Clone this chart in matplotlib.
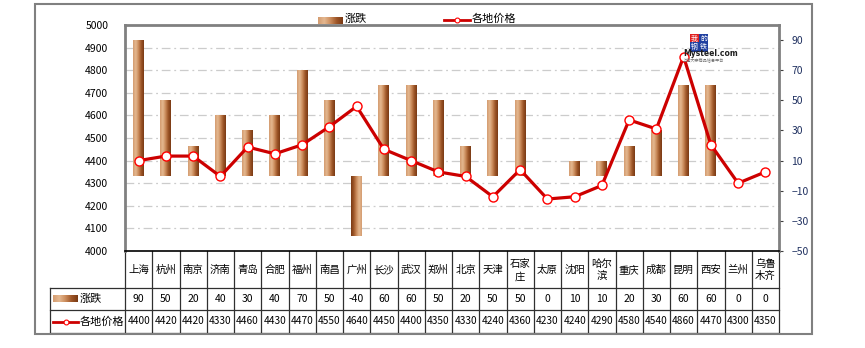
import numpy as np
import matplotlib
matplotlib.use('Agg')
import matplotlib.pyplot as plt
from matplotlib.colors import LinearSegmentedColormap
from matplotlib.lines import Line2D
from matplotlib.patches import Rectangle
from matplotlib.transforms import blended_transform_factory

plt.rcParams['font.family'] = ['Noto Sans CJK SC', 'DejaVu Sans']

# data
cities = ['上海', '杭州', '南京', '济南', '青岛', '合肥', '福州', '南昌', '广州', '长沙',
          '武汉', '郑州', '北京', '天津', '石家\n庄', '太原', '沈阳', '哈尔\n滨', '重庆',
          '成都', '昆明', '西安', '兰州', '乌鲁\n木齐']
change = [90, 50, 20, 40, 30, 40, 70, 50, -40, 60, 60, 50, 20, 50, 50, 0, 10, 10, 20, 30, 60, 60, 0, 0]
price = [4400, 4420, 4420, 4330, 4460, 4430, 4470, 4550, 4640, 4450, 4400, 4350, 4330, 4240,
         4360, 4230, 4240, 4290, 4580, 4540, 4860, 4470, 4300, 4350]
left_ticks = list(range(4000, 5001, 100))
right_ticks = list(range(-50, 91, 20))

W, H = 865, 348
fig = plt.figure(figsize=(8.65, 3.48), dpi=100)

def box(x0, y0, x1, y1):
    # pixel box (y from top) -> figure fraction
    return [x0 / W, 1 - y1 / H, (x1 - x0) / W, (y1 - y0) / H]

grad = LinearSegmentedColormap.from_list(
    'brown', ['#D49C70', '#E4B890', '#CB8C5C', '#9E5628', '#7A3A14'])
gimg = np.linspace(0, 1, 64).reshape(1, -1)

def grad_rect(x0, y0, x1, y1):
    a = fig.add_axes(box(x0, y0, x1, y1))
    a.imshow(gimg, cmap=grad, aspect='auto')
    a.axis('off')

# outer frame
fig.add_artist(Rectangle((35 / W, 1 - 334 / H), 777 / W, 330 / H, transform=fig.transFigure,
                         fill=False, edgecolor='#808080', lw=1.5))

ax = fig.add_axes(box(125, 25, 779, 251))
ax2 = ax.twinx()
x = np.arange(len(cities))

# bars on the right-hand scale
ax.set_xlim(-0.5, len(cities) - 0.5)
ax.set_ylim(-50, 100)
bars = ax.bar(x, change, width=0.4, color='none', edgecolor='none')
for b, v in zip(bars, change):
    if v == 0:
        continue
    x0, y0 = b.get_x(), b.get_y()
    img = gimg if v > 0 else gimg[:, ::-1]
    im = ax.imshow(img, cmap=grad, aspect='auto', zorder=2,
                   extent=[x0, x0 + b.get_width(), y0, y0 + b.get_height()])
    im.set_clip_path(b)
ax.set_xlim(-0.5, len(cities) - 0.5)
ax.set_ylim(-50, 100)

# grid lines follow the left-hand ticks, drawn under the bars
gt = blended_transform_factory(ax.transAxes, ax2.transData)
for v in left_ticks[1:-1]:
    ax.add_line(Line2D([0, 1], [v, v], transform=gt, color='#CCCCCC', lw=0.9,
                       ls=(0, (7, 3, 1.5, 3)), zorder=1))

# price line on the left-hand scale
ax2.set_ylim(4000, 5000)
ax2.plot(x, price, color='#CC0000', lw=2.3, marker='o', ms=6.5, mfc='white',
         mec='#FF0000', mew=1.0, zorder=3, clip_on=False)

ax.yaxis.tick_right()
ax2.yaxis.tick_left()
ax.set_yticks(right_ticks)
ax2.set_yticks(left_ticks)
ax.set_xticks([])
ax2.set_xticks([])
ax.tick_params(axis='y', direction='out', length=3, width=0.8, color='#404040',
               labelsize=7.5, labelcolor='#1F3060', pad=6)
ax2.tick_params(axis='y', length=0, labelsize=7.5, labelcolor='black', pad=12)
for s in ax.spines.values():
    s.set_visible(False)
for k in ['top', 'left', 'right']:
    ax2.spines[k].set_color('#808080')
    ax2.spines[k].set_linewidth(2)
ax2.spines['bottom'].set_color('black')
ax2.spines['bottom'].set_linewidth(1.2)

# data table under the plot
tr = ax.get_xaxis_transform()
def ay(py):
    return (251 - py) / 226.0
xl = -0.5 - 75 / 27.25
lc = '#303030'
for i in range(len(cities) + 1):
    ax.plot([i - 0.5, i - 0.5], [0, ay(333)], transform=tr, color=lc, lw=0.9, clip_on=False)
ax.plot([xl, xl], [ay(288), ay(333)], transform=tr, color=lc, lw=0.9, clip_on=False)
for py in [288, 310, 333]:
    ax.plot([xl, len(cities) - 0.5], [ay(py), ay(py)], transform=tr, color=lc, lw=0.9,
            clip_on=False)
for i, c in enumerate(cities):
    ax.text(i, ay(270), c, transform=tr, ha='center', va='center', fontsize=7.5,
            linespacing=1.35, clip_on=False)
    ax.text(i, ay(299), str(change[i]), transform=tr, ha='center', va='center',
            fontsize=7.5, clip_on=False)
    ax.text(i, ay(321.5), str(price[i]), transform=tr, ha='center', va='center',
            fontsize=7.3, clip_on=False)

# row labels with their keys
grad_rect(53, 295, 78, 302)
fig.text(80 / W, 1 - 299 / H, '涨跌', fontsize=8, va='center')
fig.add_artist(Line2D([53 / W, 78 / W], [1 - 321.5 / H] * 2, transform=fig.transFigure,
                      color='#CC0000', lw=2))
fig.add_artist(Line2D([65.5 / W], [1 - 321.5 / H], transform=fig.transFigure, marker='o',
                      ms=3.5, mfc='white', mec='#FF0000', mew=0.8))
fig.text(80 / W, 1 - 321.5 / H, '各地价格', fontsize=8, va='center')

# legend at the top
grad_rect(318, 17, 343, 24)
fig.text(345 / W, 1 - 19 / H, '涨跌', fontsize=8, va='center')
fig.add_artist(Line2D([444 / W, 470 / W], [1 - 20 / H] * 2, transform=fig.transFigure,
                      color='#CC0000', lw=2))
fig.add_artist(Line2D([457 / W], [1 - 20 / H], transform=fig.transFigure, marker='o',
                      ms=3.5, mfc='white', mec='#FF0000', mew=0.8))
fig.text(472 / W, 1 - 19 / H, '各地价格', fontsize=8, va='center')

# watermark logo
fig.text(691 / W, 1 - 39 / H, '我', fontsize=5, color='white', va='center',
         bbox=dict(boxstyle='square,pad=0.15', fc='#E02020', ec='none'))
fig.text(700 / W, 1 - 39 / H, '的', fontsize=5, color='white', va='center',
         bbox=dict(boxstyle='square,pad=0.15', fc='#2040A0', ec='none'))
fig.text(691 / W, 1 - 47 / H, '钢', fontsize=5, color='white', va='center',
         bbox=dict(boxstyle='square,pad=0.15', fc='#2040A0', ec='none'))
fig.text(700 / W, 1 - 47 / H, '铁', fontsize=5, color='white', va='center',
         bbox=dict(boxstyle='square,pad=0.15', fc='#2040A0', ec='none'))
fig.text(683 / W, 1 - 54 / H, 'Mysteel.com', fontsize=5.5, fontweight='bold',
         color='#202020', va='center', family='DejaVu Sans')
fig.text(683 / W, 1 - 60 / H, '上海大宗商品信息平台', fontsize=3, color='#707070',
         va='center')

fig.savefig('out.png', dpi=100, facecolor='white')
